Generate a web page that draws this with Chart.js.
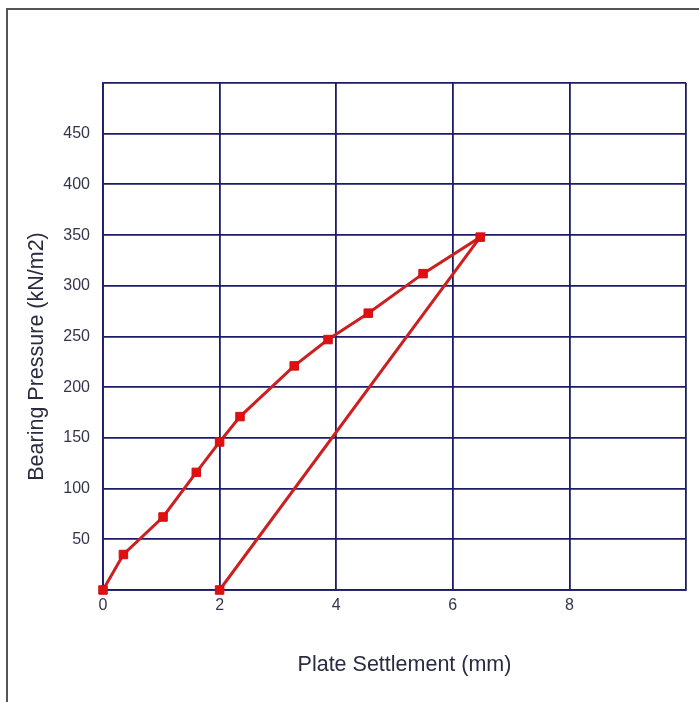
<!DOCTYPE html>
<html>
<head>
<meta charset="utf-8">
<script src="https://cdn.jsdelivr.net/npm/chart.js@4/dist/chart.umd.min.js"></script>
<style>
  html, body { margin: 0; padding: 0; background: #ffffff; }
  canvas { display: block; }
</style>
</head>
<body>
<canvas id="c" width="699" height="702"></canvas>
<script>
// Plate load test: settlement (mm) vs bearing pressure (kN/m2)
const settlement = [0, 0.35, 1.03, 1.6, 2.0, 2.35, 3.28, 3.86, 4.55, 5.49, 6.47, 2.0];
const pressure   = [0, 35, 72, 116, 146, 171, 221, 247, 273, 312, 348, 0];
const xTickLabels = ['0', '2', '4', '6', '8'];
const yTickLabels = ['50', '100', '150', '200', '250', '300', '350', '400', '450'];
const xTitle = 'Plate Settlement (mm)';
const yTitle = 'Bearing Pressure (kN/m2)';

const points = settlement.map((x, i) => ({ x: x, y: pressure[i] }));
const GRID = '#1b1b6a';
const TICK = '#34344c';

const decor = {
  id: 'decor',
  beforeDraw(chart) {
    const ctx = chart.ctx;
    ctx.save();
    ctx.fillStyle = '#ffffff';
    ctx.fillRect(0, 0, chart.width, chart.height);
    ctx.strokeStyle = '#555555';
    ctx.lineWidth = 2;
    ctx.beginPath();
    ctx.moveTo(7, 702);
    ctx.lineTo(7, 9);
    ctx.lineTo(699, 9);
    ctx.stroke();
    ctx.restore();
  },
  afterDraw(chart) {
    const ctx = chart.ctx;
    const a = chart.chartArea;
    ctx.save();
    ctx.fillStyle = '#2a2a40';
    ctx.font = '21.5px "Liberation Sans", Arial, sans-serif';
    ctx.textAlign = 'center';
    ctx.textBaseline = 'middle';
    ctx.fillText(xTitle, (a.left + a.right) / 2 + 10, a.bottom + 75);
    ctx.translate(a.left - 66, (a.top + a.bottom) / 2 + 20);
    ctx.rotate(-Math.PI / 2);
    ctx.fillText(yTitle, 0, 0);
    ctx.restore();
  }
};

new Chart(document.getElementById('c'), {
  type: 'scatter',
  data: {
    datasets: [{
      data: points,
      showLine: true,
      clip: false,
      borderColor: '#cc2020',
      borderWidth: 3,
      backgroundColor: '#e01010',
      pointStyle: 'rect',
      pointRadius: 6,
      pointBorderColor: '#d01010',
      pointBorderWidth: 1,
      tension: 0
    }]
  },
  options: {
    responsive: false,
    animation: false,
    layout: { padding: { top: 83, right: 13, left: 0, bottom: 0 } },
    plugins: { legend: { display: false }, tooltip: { enabled: false } },
    scales: {
      x: {
        type: 'linear',
        min: 0, max: 10,
        afterFit(s) { s.height = 112; },
        ticks: {
          stepSize: 2,
          padding: 6,
          color: TICK,
          font: { size: 16, family: '"Liberation Sans", Arial, sans-serif' },
          callback(v) { const i = xTickLabels.indexOf(String(v)); return i >= 0 ? xTickLabels[i] : ''; }
        },
        grid: { color: GRID, lineWidth: 1.8, drawTicks: false },
        border: { color: GRID, width: 1.8 }
      },
      y: {
        type: 'linear',
        min: 0, max: 500,
        afterFit(s) { s.width = 103; },
        ticks: {
          stepSize: 50,
          padding: 13,
          color: TICK,
          font: { size: 16, family: '"Liberation Sans", Arial, sans-serif' },
          callback(v) { const i = yTickLabels.indexOf(String(v)); return i >= 0 ? yTickLabels[i] : ''; }
        },
        grid: { color: GRID, lineWidth: 1.8, drawTicks: false },
        border: { color: GRID, width: 1.8 }
      }
    }
  },
  plugins: [decor]
});
</script>
</body>
</html>
